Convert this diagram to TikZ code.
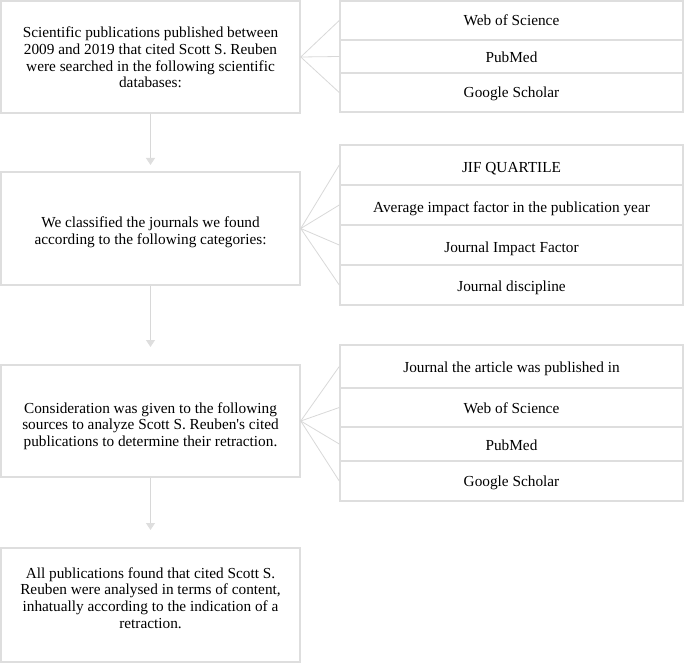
\documentclass[tikz,border=0pt]{standalone}
\usepackage{fontspec}
\setmainfont{Liberation Serif}
\usetikzlibrary{arrows.meta}
\definecolor{boxgray}{RGB}{222,222,222}
\definecolor{linegray}{RGB}{216,216,216}
\definecolor{tipgray}{RGB}{222,222,222}
\tikzset{
  mainbox/.style={draw=boxgray, line width=1.5pt, fill=white, minimum width=299pt, inner sep=0pt},
  rowbox/.style={draw=boxgray, line width=1.5pt, fill=white, minimum width=343pt, inner sep=0pt},
  txt/.style={align=center, inner sep=0pt, font=\fontsize{15.3}{16.7}\selectfont},
  fan/.style={draw=linegray, line width=0.8pt},
  flow/.style={draw=linegray, line width=1pt, -{Triangle[width=9pt,length=7pt,fill=tipgray,color=tipgray]}}
}
\begin{document}
\begin{tikzpicture}[x=1pt,y=-1pt]
\useasboundingbox (0,0) rectangle (685,663);
% main boxes
\node[mainbox, minimum height=112pt] (b1) at (150.5,57) {};
\node[txt] (b1t) at (150.5,57.5) {Scientific publications published between\\2009 and 2019 that cited Scott S. Reuben\\were searched in the following scientific\\databases:};
\node[mainbox, minimum height=113pt] (b2) at (150.5,228.5) {};
\node[txt] (b2t) at (150.5,232.5) {We classified the journals we found\\according to the following categories:};
\node[mainbox, minimum height=112pt] (b3) at (150.5,421) {};
\node[txt] (b3t) at (150.5,426) {Consideration was given to the following\\sources to analyze Scott S. Reuben\textquotesingle s cited\\publications to determine their retraction.};
\node[mainbox, minimum height=114pt] (b4) at (150.5,605) {};
\node[txt] (b4t) at (150.5,598) {All publications found that cited Scott S.\\Reuben were analysed in terms of content,\\inhatually according to the indication of a\\retraction.};
% group 1
\node[rowbox, minimum height=39pt] (r11) at (511.5,20.5) {};
\node[txt] at (511.5,20.5) {Web of Science};
\node[rowbox, minimum height=33pt] (r12) at (511.5,56.5) {};
\node[txt] at (511.5,57.5) {PubMed};
\node[rowbox, minimum height=39pt] (r13) at (511.5,92.5) {};
\node[txt] at (511.5,94) {Google Scholar};
% group 2
\node[rowbox, minimum height=40pt] (r21) at (511.5,165) {};
\node[txt] at (511.5,168.5) {JIF QUARTILE};
\node[rowbox, minimum height=40pt] (r22) at (511.5,205) {};
\node[txt] at (511.5,208.5) {Average impact factor in the publication year};
\node[rowbox, minimum height=40pt] (r23) at (511.5,245) {};
\node[txt] at (511.5,248.5) {Journal Impact Factor};
\node[rowbox, minimum height=40pt] (r24) at (511.5,285) {};
\node[txt] at (511.5,288) {Journal discipline};
% group 3
\node[rowbox, minimum height=43pt] (r31) at (511.5,366.5) {};
\node[txt] at (511.5,368.5) {Journal the article was published in};
\node[rowbox, minimum height=39pt] (r32) at (511.5,407.5) {};
\node[txt] at (511.5,408.5) {Web of Science};
\node[rowbox, minimum height=34pt] (r33) at (511.5,444) {};
\node[txt] at (511.5,445) {PubMed};
\node[rowbox, minimum height=40pt] (r34) at (511.5,481) {};
\node[txt] at (511.5,483) {Google Scholar};
% fans
\foreach \r in {r11,r12,r13} \draw[fan] (b1.east) -- (\r.west);
\foreach \r in {r21,r22,r23,r24} \draw[fan] (b2.east) -- (\r.west);
\foreach \r in {r31,r32,r33,r34} \draw[fan] (b3.east) -- (\r.west);
% flow arrows
\coordinate (t1) at (150.5,165);
\coordinate (t2) at (150.5,347);
\coordinate (t3) at (150.5,530);
\draw[flow] (b1.south) -- (t1);
\draw[flow] (b2.south) -- (t2);
\draw[flow] (b3.south) -- (t3);
\end{tikzpicture}
\end{document}
